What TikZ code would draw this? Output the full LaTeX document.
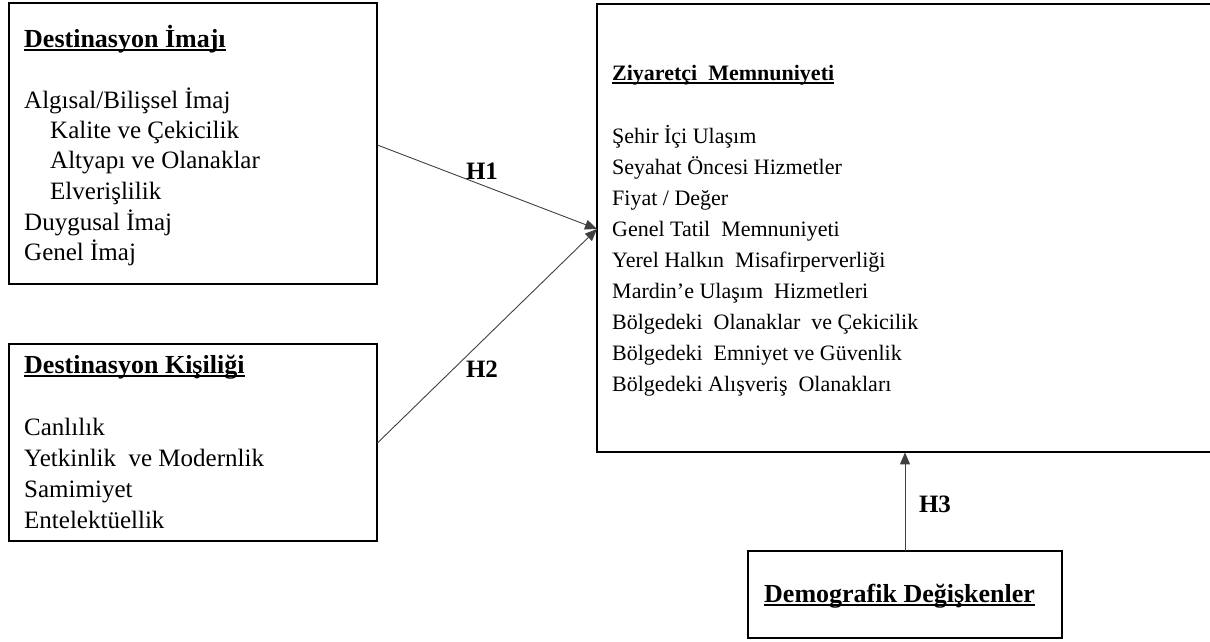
\documentclass[tikz,border=0pt]{standalone}
\usepackage{fontspec}
\setmainfont{Liberation Serif}
\usetikzlibrary{arrows.meta}

% bold heading with a low underline that crosses the descenders
\newcommand{\headline}[1]{\setbox0=\hbox{\bfseries #1}\rlap{\rule[-3.6pt]{\wd0}{1.4pt}}\box0}

\begin{document}
\begin{tikzpicture}[x=1pt,y=-1pt,
  frame/.style={draw=black,line width=1.9pt,fill=none},
  holder/.style={draw=none,anchor=north west,inner sep=0pt},
  txt/.style={anchor=base west,inner sep=0pt,font=\fontsize{22}{26}\selectfont},
  bigtxt/.style={txt,font=\fontsize{25}{29}\selectfont},
  head/.style={txt,font=\fontsize{22}{26}\selectfont\bfseries},
  bighead/.style={txt,font=\fontsize{26}{30}\selectfont\bfseries},
  hlabel/.style={inner sep=0pt,font=\fontsize{25}{29}\selectfont\bfseries},
  link/.style={draw=black!75,line width=0.9pt,-{Triangle[length=12pt,width=10pt]}}]

\useasboundingbox (0,0) rectangle (1210,641);

% the four boxes
\node[holder,minimum width=368pt,minimum height=281pt] (img) at (9,3) {};
\node[holder,minimum width=368pt,minimum height=197pt] (per) at (9,344) {};
\node[holder,minimum width=614pt,minimum height=448pt] (sat) at (597,4) {};
\node[holder,minimum width=314pt,minimum height=87pt] (dem) at (748,551) {};
\draw[frame] (img.north west) rectangle (img.south east);
\draw[frame] (per.north west) rectangle (per.south east);
\draw[frame] (sat.north west) rectangle (sat.south east);
\draw[frame] (dem.north west) rectangle (dem.south east);

% Destinasyon Imaji
\node[bighead] (imgh) at (24,47) {\headline{Destinasyon İmajı}};
\node[bigtxt] (i1) at (24,108) {Algısal/Bilişsel\ İmaj};
\node[bigtxt] (i2) at (50,138) {Kalite ve Çekicilik};
\node[bigtxt] (i3) at (50,168) {Altyapı ve Olanaklar};
\node[bigtxt] (i4) at (50,199) {Elverişlilik};
\node[bigtxt] (i5) at (24,230) {Duygusal İmaj};
\node[bigtxt] (i6) at (24,260) {Genel İmaj};

% Destinasyon Kisiligi
\node[bighead] (perh) at (24,373) {\headline{Destinasyon Kişiliği}};
\node[bigtxt] (p1) at (24,435) {Canlılık};
\node[bigtxt] (p2) at (24,466) {Yetkinlik\ \ ve Modernlik};
\node[bigtxt] (p3) at (24,497) {Samimiyet};
\node[bigtxt] (p4) at (24,528) {Entelektüellik};

% Ziyaretci Memnuniyeti
\node[head] (sath) at (612,80) {\headline{Ziyaretçi\ \ Memnuniyeti}};
\foreach \t [count=\i] in {Şehir İçi Ulaşım,Seyahat Öncesi Hizmetler,Fiyat / Değer,Genel Tatil\ \ Memnuniyeti,Yerel Halkın\ \ Misafirperverliği,Mardin’e Ulaşım\ \ Hizmetleri,Bölgedeki\ \ Olanaklar\ \ ve Çekicilik,Bölgedeki\ \ Emniyet ve Güvenlik,Bölgedeki Alışveriş\ \ Olanakları}
  \node[txt] (s\i) at (612,{143+(\i-1)*31}) {\t};

% Demografik Degiskenler
\node[bighead] (demh) at (764,602) {\headline{Demografik Değişkenler}};

% hypothesis links
\coordinate (h1s) at (img.east |- 0,145);
\coordinate (h2s) at (per.east |- 0,443);
\coordinate (hit) at (sat.west |- 0,229);
\coordinate (h3s) at (dem.north -| 905,0);
\coordinate (h3e) at (sat.south -| 905,0);
\draw[link] (h1s) -- (hit);
\draw[link] (h2s) -- (hit);
\draw[link] (h3s) -- (h3e);

\node[hlabel] (l1) at (482,171) {H1};
\node[hlabel] (l2) at (482,369) {H2};
\node[hlabel] (l3) at (935,504) {H3};
\end{tikzpicture}
\end{document}
